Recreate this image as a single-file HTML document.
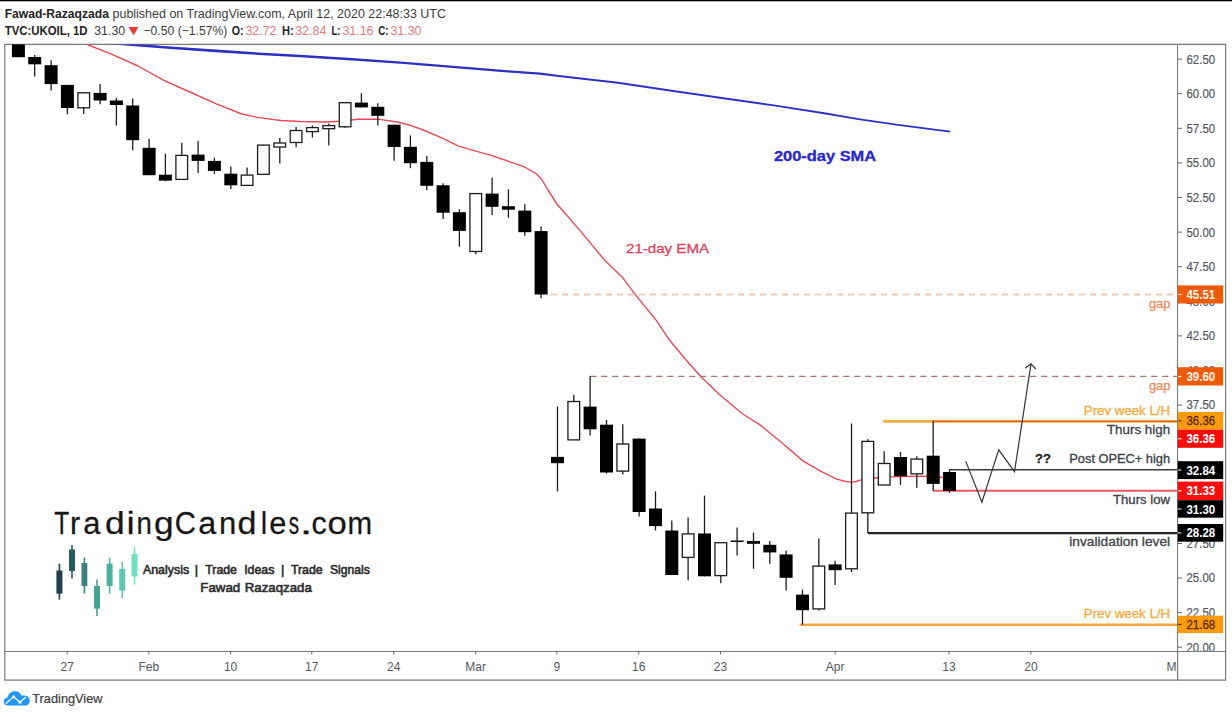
<!DOCTYPE html>
<html><head><meta charset="utf-8"><title>UKOIL chart</title>
<style>
html,body{margin:0;padding:0;background:#fff;}
body{width:1232px;height:717px;overflow:hidden;font-family:"Liberation Sans",sans-serif;}
svg{display:block;font-family:"Liberation Sans",sans-serif;}
.ax{font-size:12px;fill:#54585e;}
.pl{font-size:11.5px;font-weight:bold;}
.hd{font-size:12.5px;fill:#3a3a3a;}
.hb{font-size:12.5px;font-weight:bold;fill:#222;}
.hr{font-size:12.5px;fill:#e8787a;}
.an{font-size:12px;}
</style></head><body>
<svg width="1232" height="717" viewBox="0 0 1232 717">
<rect x="0" y="0" width="1232" height="717" fill="#fff"/>
<rect x="0" y="0" width="1232" height="1.3" fill="#000"/>
<!-- header -->
<text x="4.7" y="18.3" class="hb" textLength="104.2" lengthAdjust="spacingAndGlyphs">Fawad-Razaqzada</text>
<text x="112.5" y="18.3" class="hd" textLength="333.5" lengthAdjust="spacingAndGlyphs">published on TradingView.com, April 12, 2020 22:48:33 UTC</text>
<text x="4.7" y="35.2" class="hb" textLength="82.9" lengthAdjust="spacingAndGlyphs">TVC:UKOIL, 1D</text>
<text x="94.2" y="35.2" class="hd" textLength="31" lengthAdjust="spacingAndGlyphs">31.30</text>
<path d="M128.6 26.9 L138.4 26.9 L133.5 35.2 Z" fill="#e53935"/>
<text x="143.5" y="35.2" class="hd" textLength="83.8" lengthAdjust="spacingAndGlyphs">−0.50 (−1.57%)</text>
<text x="231.7" y="35.2" class="hb" textLength="11.8" lengthAdjust="spacingAndGlyphs">O:</text>
<text x="245.4" y="35.2" class="hr" textLength="31.1" lengthAdjust="spacingAndGlyphs">32.72</text>
<text x="282.1" y="35.2" class="hb" textLength="11.7" lengthAdjust="spacingAndGlyphs">H:</text>
<text x="295.3" y="35.2" class="hr" textLength="31.1" lengthAdjust="spacingAndGlyphs">32.84</text>
<text x="331.5" y="35.2" class="hb" textLength="9" lengthAdjust="spacingAndGlyphs">L:</text>
<text x="342.4" y="35.2" class="hr" textLength="31.1" lengthAdjust="spacingAndGlyphs">31.16</text>
<text x="378.2" y="35.2" class="hb" textLength="10.3" lengthAdjust="spacingAndGlyphs">C:</text>
<text x="390.4" y="35.2" class="hr" textLength="31.1" lengthAdjust="spacingAndGlyphs">31.30</text>

<!-- chart frame -->
<g fill="none" stroke="#7a7a7a" stroke-width="1.2">
<path d="M4.8 680.2 L4.8 44.4 L1225.6 44.4 L1225.6 680.2 Z"/>
<line x1="4.8" y1="651.5" x2="1225.6" y2="651.5"/>
<line x1="1177.6" y1="44.4" x2="1177.6" y2="680.2"/>
</g>

<!-- moving averages -->
<clipPath id="plot"><rect x="5" y="44.4" width="1172" height="607"/></clipPath>
<g clip-path="url(#plot)">
<polygon points="100.0,40.85 122.3,42.66 163.9,45.99 215.8,49.62 267.8,53.05 300.0,54.77 351.9,58.00 403.9,61.63 455.8,66.06 507.8,70.19 540.0,72.51 559.0,74.92 617.9,81.75 669.9,89.59 721.8,97.02 773.8,104.45 825.7,112.58 860.0,118.40 897.9,124.02 950.0,130.85 950.0,132.55 897.9,125.78 860.0,120.20 825.7,114.42 773.8,106.35 721.8,98.98 669.9,91.61 617.9,83.85 559.0,77.08 540.0,74.69 507.8,72.41 455.8,68.34 403.9,63.97 351.9,60.40 300.0,57.23 267.8,55.55 215.8,52.18 163.9,48.61 122.3,45.34 100.0,43.55" fill="#2b30c0"/>
<polyline points="84,42.5 87.3,44.5 112,54.3 138,66 163.9,80.3 189.9,92 215.8,103.6 241.8,114 257.4,117.4 280.8,120.5 300,121.5 326,122 339,121.2 358,119.2 378,119.1 397.4,122 410.4,125.3 423.4,130 442.9,138.4 458.4,146.2 490.9,155.3 523.4,166.4 536,173.5 541.5,179.2 548,190 556.9,204 579,229.4 604.7,260.3 622.1,276.9 635.1,294.4 655.8,319.7 668.8,339.2 685.6,359.5 701.2,377 719.4,394.5 742.7,414 760,424.9 779.5,440.8 802.9,460.9 821,471.3 836.6,479.1 845,481.3 850.9,482.1 856,481.5 861.9,479.7 876.9,477.8 891.2,476.9 906.8,476.4 925,476.3 941,477.2 949,477.8" fill="none" stroke="#e8495a" stroke-width="1.4" stroke-linejoin="round"/>
</g>

<!-- horizontal levels -->
<line x1="550.8" y1="294.5" x2="1177" y2="294.5" stroke="#e6cdbb" stroke-width="2.2" stroke-dasharray="6.5 4.5"/>
<line x1="590.2" y1="376.4" x2="1177" y2="376.4" stroke="#a8746a" stroke-width="1.2" stroke-dasharray="6.2 4.8"/>
<line x1="883.2" y1="421.3" x2="1177" y2="421.3" stroke="#f2ad3a" stroke-width="2.8"/>
<line x1="933.3" y1="421.2" x2="1177" y2="421.2" stroke="#e54a30" stroke-width="1.1"/>
<line x1="949" y1="469.7" x2="1177" y2="469.7" stroke="#3a3a3a" stroke-width="1.5"/>
<line x1="933.3" y1="490.7" x2="1177" y2="490.7" stroke="#ea5865" stroke-width="2"/>
<line x1="868" y1="533.1" x2="1177" y2="533.1" stroke="#222" stroke-width="2.1"/>
<line x1="799.5" y1="624.8" x2="1177" y2="624.8" stroke="#f4a63a" stroke-width="2.4"/>

<!-- candles -->
<line x1="18.4" y1="44.5" x2="18.4" y2="57.2" stroke="#1c1c1c" stroke-width="1.3"/>
<rect x="11.9" y="44.5" width="13.0" height="12.7" fill="#000"/>
<line x1="34.7" y1="55" x2="34.7" y2="76.5" stroke="#1c1c1c" stroke-width="1.3"/>
<rect x="28.2" y="57" width="13.0" height="7.3" fill="#000"/>
<line x1="51.1" y1="60.2" x2="51.1" y2="90.4" stroke="#1c1c1c" stroke-width="1.3"/>
<rect x="44.6" y="65.2" width="13.0" height="18.9" fill="#000"/>
<line x1="67.4" y1="84.9" x2="67.4" y2="114.3" stroke="#1c1c1c" stroke-width="1.3"/>
<rect x="60.9" y="84.9" width="13.0" height="23.1" fill="#000"/>
<line x1="83.7" y1="92.4" x2="83.7" y2="114" stroke="#1c1c1c" stroke-width="1.3"/>
<rect x="77.89" y="92.8" width="11.70" height="15.0" fill="#fff" stroke="#1c1c1c" stroke-width="1.3"/>
<line x1="100.1" y1="84.1" x2="100.1" y2="104.2" stroke="#1c1c1c" stroke-width="1.3"/>
<rect x="93.6" y="92.9" width="13.0" height="7.6" fill="#000"/>
<line x1="116.4" y1="98" x2="116.4" y2="125.6" stroke="#1c1c1c" stroke-width="1.3"/>
<rect x="109.9" y="100.5" width="13.0" height="4.5" fill="#000"/>
<line x1="132.7" y1="98.4" x2="132.7" y2="150.3" stroke="#1c1c1c" stroke-width="1.3"/>
<rect x="126.2" y="105.5" width="13.0" height="34.7" fill="#000"/>
<line x1="149.1" y1="138.7" x2="149.1" y2="175.2" stroke="#1c1c1c" stroke-width="1.3"/>
<rect x="142.6" y="147.8" width="13.0" height="27.4" fill="#000"/>
<line x1="165.4" y1="153.8" x2="165.4" y2="181.2" stroke="#1c1c1c" stroke-width="1.3"/>
<rect x="158.9" y="174.7" width="13.0" height="5.9" fill="#000"/>
<line x1="181.8" y1="142.7" x2="181.8" y2="179.6" stroke="#1c1c1c" stroke-width="1.3"/>
<rect x="175.90" y="155.4" width="11.70" height="24.0" fill="#fff" stroke="#1c1c1c" stroke-width="1.3"/>
<line x1="198.1" y1="140.7" x2="198.1" y2="172.9" stroke="#1c1c1c" stroke-width="1.3"/>
<rect x="191.6" y="154.6" width="13.0" height="6.3" fill="#000"/>
<line x1="214.4" y1="157.8" x2="214.4" y2="174" stroke="#1c1c1c" stroke-width="1.3"/>
<rect x="207.9" y="160.9" width="13.0" height="10.0" fill="#000"/>
<line x1="230.8" y1="166.6" x2="230.8" y2="189" stroke="#1c1c1c" stroke-width="1.3"/>
<rect x="224.3" y="173.7" width="13.0" height="11.6" fill="#000"/>
<line x1="247.1" y1="167.6" x2="247.1" y2="185.6" stroke="#1c1c1c" stroke-width="1.3"/>
<rect x="241.24" y="175.1" width="11.70" height="10.3" fill="#fff" stroke="#1c1c1c" stroke-width="1.3"/>
<line x1="263.4" y1="144.7" x2="263.4" y2="174.5" stroke="#1c1c1c" stroke-width="1.3"/>
<rect x="257.57" y="145.1" width="11.70" height="29.2" fill="#fff" stroke="#1c1c1c" stroke-width="1.3"/>
<line x1="279.8" y1="137.7" x2="279.8" y2="163.4" stroke="#1c1c1c" stroke-width="1.3"/>
<rect x="273.91" y="143.0" width="11.70" height="4.0" fill="#fff" stroke="#1c1c1c" stroke-width="1.3"/>
<line x1="296.1" y1="126.9" x2="296.1" y2="147.3" stroke="#1c1c1c" stroke-width="1.3"/>
<rect x="290.24" y="130.5" width="11.70" height="12.0" fill="#fff" stroke="#1c1c1c" stroke-width="1.3"/>
<line x1="312.4" y1="125.4" x2="312.4" y2="137.5" stroke="#1c1c1c" stroke-width="1.3"/>
<rect x="306.58" y="127.6" width="11.70" height="4.0" fill="#fff" stroke="#1c1c1c" stroke-width="1.3"/>
<line x1="328.8" y1="123.4" x2="328.8" y2="145.6" stroke="#1c1c1c" stroke-width="1.3"/>
<rect x="322.91" y="125.6" width="11.70" height="3.1" fill="#fff" stroke="#1c1c1c" stroke-width="1.3"/>
<line x1="345.1" y1="102.3" x2="345.1" y2="127.8" stroke="#1c1c1c" stroke-width="1.3"/>
<rect x="339.25" y="102.7" width="11.70" height="24.1" fill="#fff" stroke="#1c1c1c" stroke-width="1.3"/>
<line x1="361.4" y1="93.2" x2="361.4" y2="107.4" stroke="#1c1c1c" stroke-width="1.3"/>
<rect x="354.9" y="102.6" width="13.0" height="4.8" fill="#000"/>
<line x1="377.8" y1="103.3" x2="377.8" y2="125.4" stroke="#1c1c1c" stroke-width="1.3"/>
<rect x="371.3" y="106.8" width="13.0" height="9.0" fill="#000"/>
<line x1="394.1" y1="124.7" x2="394.1" y2="160.7" stroke="#1c1c1c" stroke-width="1.3"/>
<rect x="387.6" y="124.7" width="13.0" height="22.3" fill="#000"/>
<line x1="410.4" y1="135.5" x2="410.4" y2="168.2" stroke="#1c1c1c" stroke-width="1.3"/>
<rect x="403.9" y="146.8" width="13.0" height="16.4" fill="#000"/>
<line x1="426.8" y1="156.1" x2="426.8" y2="190.3" stroke="#1c1c1c" stroke-width="1.3"/>
<rect x="420.3" y="161.9" width="13.0" height="23.9" fill="#000"/>
<line x1="443.1" y1="183.3" x2="443.1" y2="219" stroke="#1c1c1c" stroke-width="1.3"/>
<rect x="436.6" y="185.3" width="13.0" height="27.4" fill="#000"/>
<line x1="459.4" y1="209.3" x2="459.4" y2="246.7" stroke="#1c1c1c" stroke-width="1.3"/>
<rect x="452.9" y="212.2" width="13.0" height="18.7" fill="#000"/>
<line x1="475.8" y1="193.2" x2="475.8" y2="254.2" stroke="#1c1c1c" stroke-width="1.3"/>
<rect x="469.93" y="193.6" width="11.70" height="57.9" fill="#fff" stroke="#1c1c1c" stroke-width="1.3"/>
<line x1="492.1" y1="177.8" x2="492.1" y2="215" stroke="#1c1c1c" stroke-width="1.3"/>
<rect x="485.6" y="193.6" width="13.0" height="13.2" fill="#000"/>
<line x1="508.4" y1="189.3" x2="508.4" y2="217.8" stroke="#1c1c1c" stroke-width="1.3"/>
<rect x="501.9" y="206.2" width="13.0" height="3.5" fill="#000"/>
<line x1="524.8" y1="204.3" x2="524.8" y2="235.8" stroke="#1c1c1c" stroke-width="1.3"/>
<rect x="518.3" y="210.6" width="13.0" height="21.6" fill="#000"/>
<line x1="541.1" y1="226.6" x2="541.1" y2="298.3" stroke="#1c1c1c" stroke-width="1.3"/>
<rect x="534.6" y="231.1" width="13.0" height="63.4" fill="#000"/>
<line x1="557.5" y1="406.6" x2="557.5" y2="491.4" stroke="#1c1c1c" stroke-width="1.3"/>
<rect x="551.0" y="456.9" width="13.0" height="6.3" fill="#000"/>
<line x1="573.8" y1="394.8" x2="573.8" y2="440.1" stroke="#1c1c1c" stroke-width="1.3"/>
<rect x="567.94" y="401.5" width="11.70" height="38.4" fill="#fff" stroke="#1c1c1c" stroke-width="1.3"/>
<line x1="590.1" y1="375.9" x2="590.1" y2="435.6" stroke="#1c1c1c" stroke-width="1.3"/>
<rect x="583.6" y="406.6" width="13.0" height="22.7" fill="#000"/>
<line x1="606.5" y1="420" x2="606.5" y2="473.5" stroke="#1c1c1c" stroke-width="1.3"/>
<rect x="600.0" y="424.7" width="13.0" height="47.8" fill="#000"/>
<line x1="622.8" y1="424.2" x2="622.8" y2="474.6" stroke="#1c1c1c" stroke-width="1.3"/>
<rect x="616.94" y="444.0" width="11.70" height="27.1" fill="#fff" stroke="#1c1c1c" stroke-width="1.3"/>
<line x1="639.1" y1="438.6" x2="639.1" y2="516.6" stroke="#1c1c1c" stroke-width="1.3"/>
<rect x="632.6" y="438.6" width="13.0" height="73.4" fill="#000"/>
<line x1="655.5" y1="491.4" x2="655.5" y2="530.5" stroke="#1c1c1c" stroke-width="1.3"/>
<rect x="649.0" y="508.5" width="13.0" height="17.6" fill="#000"/>
<line x1="671.8" y1="520.5" x2="671.8" y2="575" stroke="#1c1c1c" stroke-width="1.3"/>
<rect x="665.3" y="530.5" width="13.0" height="44.5" fill="#000"/>
<line x1="688.1" y1="517.4" x2="688.1" y2="580.3" stroke="#1c1c1c" stroke-width="1.3"/>
<rect x="682.28" y="533.9" width="11.70" height="23.5" fill="#fff" stroke="#1c1c1c" stroke-width="1.3"/>
<line x1="704.5" y1="495.6" x2="704.5" y2="576.3" stroke="#1c1c1c" stroke-width="1.3"/>
<rect x="698.0" y="533.5" width="13.0" height="42.8" fill="#000"/>
<line x1="720.8" y1="542.3" x2="720.8" y2="583.3" stroke="#1c1c1c" stroke-width="1.3"/>
<rect x="714.96" y="542.7" width="11.70" height="32.9" fill="#fff" stroke="#1c1c1c" stroke-width="1.3"/>
<line x1="737.1" y1="527.4" x2="737.1" y2="555.6" stroke="#1c1c1c" stroke-width="1.3"/>
<rect x="730.6" y="540.5" width="13.0" height="1.5" fill="#000"/>
<line x1="753.5" y1="532.5" x2="753.5" y2="568.7" stroke="#1c1c1c" stroke-width="1.3"/>
<rect x="747.0" y="541" width="13.0" height="2.8" fill="#000"/>
<line x1="769.8" y1="541" x2="769.8" y2="563.7" stroke="#1c1c1c" stroke-width="1.3"/>
<rect x="763.3" y="544.8" width="13.0" height="7.6" fill="#000"/>
<line x1="786.1" y1="550.6" x2="786.1" y2="590.4" stroke="#1c1c1c" stroke-width="1.3"/>
<rect x="779.6" y="554.4" width="13.0" height="23.4" fill="#000"/>
<line x1="802.5" y1="589.6" x2="802.5" y2="624.8" stroke="#1c1c1c" stroke-width="1.3"/>
<rect x="796.0" y="594.6" width="13.0" height="15.6" fill="#000"/>
<line x1="818.8" y1="538.5" x2="818.8" y2="610.6" stroke="#1c1c1c" stroke-width="1.3"/>
<rect x="812.97" y="566.1" width="11.70" height="42.8" fill="#fff" stroke="#1c1c1c" stroke-width="1.3"/>
<line x1="835.1" y1="560.7" x2="835.1" y2="585.1" stroke="#1c1c1c" stroke-width="1.3"/>
<rect x="828.6" y="564.4" width="13.0" height="5.8" fill="#000"/>
<line x1="851.5" y1="423.5" x2="851.5" y2="572" stroke="#1c1c1c" stroke-width="1.3"/>
<rect x="845.63" y="513.1" width="11.70" height="55.7" fill="#fff" stroke="#1c1c1c" stroke-width="1.3"/>
<line x1="867.8" y1="439.3" x2="867.8" y2="533.1" stroke="#1c1c1c" stroke-width="1.3"/>
<rect x="861.97" y="441.4" width="11.70" height="71.4" fill="#fff" stroke="#1c1c1c" stroke-width="1.3"/>
<line x1="884.2" y1="451.2" x2="884.2" y2="485.2" stroke="#1c1c1c" stroke-width="1.3"/>
<rect x="878.30" y="463.5" width="11.70" height="21.5" fill="#fff" stroke="#1c1c1c" stroke-width="1.3"/>
<line x1="900.5" y1="451.9" x2="900.5" y2="484.9" stroke="#1c1c1c" stroke-width="1.3"/>
<rect x="894.0" y="457" width="13.0" height="19.3" fill="#000"/>
<line x1="916.8" y1="456.2" x2="916.8" y2="487.8" stroke="#1c1c1c" stroke-width="1.3"/>
<rect x="910.98" y="459.1" width="11.70" height="14.7" fill="#fff" stroke="#1c1c1c" stroke-width="1.3"/>
<line x1="933.2" y1="421.2" x2="933.2" y2="490.9" stroke="#1c1c1c" stroke-width="1.3"/>
<rect x="926.7" y="455.7" width="13.0" height="28.2" fill="#000"/>
<line x1="949.5" y1="470.3" x2="949.5" y2="492.9" stroke="#1c1c1c" stroke-width="1.3"/>
<rect x="943.0" y="472" width="13.0" height="18.9" fill="#000"/>

<!-- projected path arrow -->
<polyline points="965.8,461.4 981.9,502.3 998.7,449.9 1014.5,471.6 1031,363.8" fill="none" stroke="#333" stroke-width="1.2" stroke-linejoin="miter"/>
<polyline points="1025.2,368.3 1031,363.8 1035.8,369" fill="none" stroke="#333" stroke-width="1.2"/>

<!-- annotations -->
<text x="626" y="253.1" class="an" stroke="#e0405a" stroke-width="0.3" style="font-size:13.5px" fill="#e0405a" textLength="83.1" lengthAdjust="spacingAndGlyphs">21-day EMA</text>
<text x="773.9" y="160.7" class="an" stroke="#2828cc" stroke-width="0.3" style="font-size:14px" fill="#2828cc" font-weight="bold" textLength="102.3" lengthAdjust="spacingAndGlyphs">200-day SMA</text>
<text x="1148.9" y="307.7" class="an" stroke="#ea8a60" stroke-width="0.3" fill="#ea8a60" textLength="21.4" lengthAdjust="spacingAndGlyphs">gap</text>
<text x="1148.9" y="389.9" class="an" stroke="#ea8a60" stroke-width="0.3" fill="#ea8a60" textLength="21.4" lengthAdjust="spacingAndGlyphs">gap</text>
<text x="1083.8" y="414.6" class="an" stroke="#f2ab3c" stroke-width="0.3" fill="#f2ab3c" textLength="86.3" lengthAdjust="spacingAndGlyphs">Prev week L/H</text>
<text x="1106.9" y="434.4" class="an" stroke="#3d4248" stroke-width="0.3" fill="#3d4248" textLength="63.2" lengthAdjust="spacingAndGlyphs">Thurs high</text>
<text x="1035" y="462.7" class="an" stroke="#222" stroke-width="0.3" style="font-size:13px" fill="#222" font-weight="bold" textLength="15.8" lengthAdjust="spacingAndGlyphs">??</text>
<text x="1069.3" y="463.2" class="an" stroke="#3d4248" stroke-width="0.3" fill="#3d4248" textLength="100.8" lengthAdjust="spacingAndGlyphs">Post OPEC+ high</text>
<text x="1113" y="504.4" class="an" stroke="#3d4248" stroke-width="0.3" fill="#3d4248" textLength="57.1" lengthAdjust="spacingAndGlyphs">Thurs low</text>
<text x="1069.3" y="546.3" class="an" stroke="#3d4248" stroke-width="0.3" fill="#3d4248" textLength="100.8" lengthAdjust="spacingAndGlyphs">invalidation level</text>
<text x="1083.8" y="618" class="an" stroke="#f2ab3c" stroke-width="0.3" fill="#f2ab3c" textLength="86.3" lengthAdjust="spacingAndGlyphs">Prev week L/H</text>

<!-- price axis -->
<rect x="1178.3" y="45" width="46.6" height="606" fill="#fff"/>
<g clip-path="url(#axclip)">
<line x1="1178" y1="59.1" x2="1182" y2="59.1" stroke="#666" stroke-width="1"/>
<text x="1186.5" y="63.5" textLength="28.6" lengthAdjust="spacingAndGlyphs" class="ax" stroke="#54585e" stroke-width="0.2">62.50</text>
<line x1="1178" y1="93.7" x2="1182" y2="93.7" stroke="#666" stroke-width="1"/>
<text x="1186.5" y="98.1" textLength="28.6" lengthAdjust="spacingAndGlyphs" class="ax" stroke="#54585e" stroke-width="0.2">60.00</text>
<line x1="1178" y1="128.3" x2="1182" y2="128.3" stroke="#666" stroke-width="1"/>
<text x="1186.5" y="132.7" textLength="28.6" lengthAdjust="spacingAndGlyphs" class="ax" stroke="#54585e" stroke-width="0.2">57.50</text>
<line x1="1178" y1="162.9" x2="1182" y2="162.9" stroke="#666" stroke-width="1"/>
<text x="1186.5" y="167.3" textLength="28.6" lengthAdjust="spacingAndGlyphs" class="ax" stroke="#54585e" stroke-width="0.2">55.00</text>
<line x1="1178" y1="197.5" x2="1182" y2="197.5" stroke="#666" stroke-width="1"/>
<text x="1186.5" y="201.9" textLength="28.6" lengthAdjust="spacingAndGlyphs" class="ax" stroke="#54585e" stroke-width="0.2">52.50</text>
<line x1="1178" y1="232.1" x2="1182" y2="232.1" stroke="#666" stroke-width="1"/>
<text x="1186.5" y="236.5" textLength="28.6" lengthAdjust="spacingAndGlyphs" class="ax" stroke="#54585e" stroke-width="0.2">50.00</text>
<line x1="1178" y1="266.7" x2="1182" y2="266.7" stroke="#666" stroke-width="1"/>
<text x="1186.5" y="271.1" textLength="28.6" lengthAdjust="spacingAndGlyphs" class="ax" stroke="#54585e" stroke-width="0.2">47.50</text>
<line x1="1178" y1="301.2" x2="1182" y2="301.2" stroke="#666" stroke-width="1"/>
<text x="1186.5" y="305.6" textLength="28.6" lengthAdjust="spacingAndGlyphs" class="ax" stroke="#54585e" stroke-width="0.2">45.00</text>
<line x1="1178" y1="335.9" x2="1182" y2="335.9" stroke="#666" stroke-width="1"/>
<text x="1186.5" y="340.2" textLength="28.6" lengthAdjust="spacingAndGlyphs" class="ax" stroke="#54585e" stroke-width="0.2">42.50</text>
<line x1="1178" y1="370.5" x2="1182" y2="370.5" stroke="#666" stroke-width="1"/>
<text x="1186.5" y="374.9" textLength="28.6" lengthAdjust="spacingAndGlyphs" class="ax" stroke="#54585e" stroke-width="0.2">40.00</text>
<line x1="1178" y1="405.1" x2="1182" y2="405.1" stroke="#666" stroke-width="1"/>
<text x="1186.5" y="409.4" textLength="28.6" lengthAdjust="spacingAndGlyphs" class="ax" stroke="#54585e" stroke-width="0.2">37.50</text>
<line x1="1178" y1="439.7" x2="1182" y2="439.7" stroke="#666" stroke-width="1"/>
<text x="1186.5" y="444.1" textLength="28.6" lengthAdjust="spacingAndGlyphs" class="ax" stroke="#54585e" stroke-width="0.2">35.00</text>
<line x1="1178" y1="474.2" x2="1182" y2="474.2" stroke="#666" stroke-width="1"/>
<text x="1186.5" y="478.6" textLength="28.6" lengthAdjust="spacingAndGlyphs" class="ax" stroke="#54585e" stroke-width="0.2">32.50</text>
<line x1="1178" y1="508.9" x2="1182" y2="508.9" stroke="#666" stroke-width="1"/>
<text x="1186.5" y="513.2" textLength="28.6" lengthAdjust="spacingAndGlyphs" class="ax" stroke="#54585e" stroke-width="0.2">30.00</text>
<line x1="1178" y1="543.5" x2="1182" y2="543.5" stroke="#666" stroke-width="1"/>
<text x="1186.5" y="547.9" textLength="28.6" lengthAdjust="spacingAndGlyphs" class="ax" stroke="#54585e" stroke-width="0.2">27.50</text>
<line x1="1178" y1="578.0" x2="1182" y2="578.0" stroke="#666" stroke-width="1"/>
<text x="1186.5" y="582.4" textLength="28.6" lengthAdjust="spacingAndGlyphs" class="ax" stroke="#54585e" stroke-width="0.2">25.00</text>
<line x1="1178" y1="612.7" x2="1182" y2="612.7" stroke="#666" stroke-width="1"/>
<text x="1186.5" y="617.1" textLength="28.6" lengthAdjust="spacingAndGlyphs" class="ax" stroke="#54585e" stroke-width="0.2">22.50</text>
<line x1="1178" y1="647.2" x2="1182" y2="647.2" stroke="#666" stroke-width="1"/>
<text x="1186.5" y="651.6" textLength="28.6" lengthAdjust="spacingAndGlyphs" class="ax" stroke="#54585e" stroke-width="0.2">20.00</text>
</g>
<clipPath id="axclip"><rect x="1178" y="45" width="47" height="606"/></clipPath>
<rect x="1177.8" y="285.4" width="45.4" height="18.1" fill="#ee5a0a"/><line x1="1178" y1="294.4" x2="1181.5" y2="294.4" stroke="#fff4e6" stroke-width="1"/><text x="1186.4" y="298.9" textLength="28.8" lengthAdjust="spacingAndGlyphs" font-size="12" font-weight="bold" fill="#fff4e6" stroke="#fff4e6" stroke-width="0">45.51</text>
<rect x="1177.8" y="367.2" width="45.4" height="18.3" fill="#ee5a0a"/><line x1="1178" y1="376.4" x2="1181.5" y2="376.4" stroke="#fff4e6" stroke-width="1"/><text x="1186.4" y="380.9" textLength="28.8" lengthAdjust="spacingAndGlyphs" font-size="12" font-weight="bold" fill="#fff4e6" stroke="#fff4e6" stroke-width="0">39.60</text>
<rect x="1177.8" y="412" width="45.4" height="17.7" fill="#fb9a10"/><line x1="1178" y1="420.9" x2="1181.5" y2="420.9" stroke="#5a2806" stroke-width="1"/><text x="1186.4" y="425.4" textLength="28.8" lengthAdjust="spacingAndGlyphs" font-size="12" font-weight="normal" fill="#5a2806" stroke="#5a2806" stroke-width="0.3">36.36</text>
<rect x="1177.8" y="429.7" width="45.4" height="18.1" fill="#f90d0d"/><line x1="1178" y1="438.8" x2="1181.5" y2="438.8" stroke="#fff" stroke-width="1"/><text x="1186.4" y="443.2" textLength="28.8" lengthAdjust="spacingAndGlyphs" font-size="12" font-weight="bold" fill="#fff" stroke="#fff" stroke-width="0">36.36</text>
<rect x="1177.8" y="461.2" width="45.4" height="17.9" fill="#000"/><line x1="1178" y1="470.1" x2="1181.5" y2="470.1" stroke="#fff" stroke-width="1"/><text x="1186.4" y="474.6" textLength="28.8" lengthAdjust="spacingAndGlyphs" font-size="12" font-weight="bold" fill="#fff" stroke="#fff" stroke-width="0">32.84</text>
<rect x="1177.8" y="481.6" width="45.4" height="18.6" fill="#f90d0d"/><line x1="1178" y1="490.9" x2="1181.5" y2="490.9" stroke="#fff" stroke-width="1"/><text x="1186.4" y="495.4" textLength="28.8" lengthAdjust="spacingAndGlyphs" font-size="12" font-weight="bold" fill="#fff" stroke="#fff" stroke-width="0">31.33</text>
<rect x="1177.8" y="500.2" width="45.4" height="17.5" fill="#000"/><line x1="1178" y1="509.0" x2="1181.5" y2="509.0" stroke="#fff" stroke-width="1"/><text x="1186.4" y="513.5" textLength="28.8" lengthAdjust="spacingAndGlyphs" font-size="12" font-weight="bold" fill="#fff" stroke="#fff" stroke-width="0">31.30</text>
<rect x="1177.8" y="524" width="45.4" height="17.7" fill="#000"/><line x1="1178" y1="532.9" x2="1181.5" y2="532.9" stroke="#fff" stroke-width="1"/><text x="1186.4" y="537.4" textLength="28.8" lengthAdjust="spacingAndGlyphs" font-size="12" font-weight="bold" fill="#fff" stroke="#fff" stroke-width="0">28.28</text>
<rect x="1177.8" y="615.7" width="45.4" height="17.4" fill="#fb9a10"/><line x1="1178" y1="624.4" x2="1181.5" y2="624.4" stroke="#5a2806" stroke-width="1"/><text x="1186.4" y="628.9" textLength="28.8" lengthAdjust="spacingAndGlyphs" font-size="12" font-weight="normal" fill="#5a2806" stroke="#5a2806" stroke-width="0.3">21.68</text>

<!-- time axis -->
<line x1="67.2" y1="651.5" x2="67.2" y2="654.5" stroke="#666" stroke-width="1"/>
<text x="67.2" y="670.6" text-anchor="middle" class="ax">27</text>
<line x1="148.8" y1="651.5" x2="148.8" y2="654.5" stroke="#666" stroke-width="1"/>
<text x="148.8" y="670.6" text-anchor="middle" class="ax">Feb</text>
<line x1="230.6" y1="651.5" x2="230.6" y2="654.5" stroke="#666" stroke-width="1"/>
<text x="230.6" y="670.6" text-anchor="middle" class="ax">10</text>
<line x1="311.8" y1="651.5" x2="311.8" y2="654.5" stroke="#666" stroke-width="1"/>
<text x="311.8" y="670.6" text-anchor="middle" class="ax">17</text>
<line x1="393.7" y1="651.5" x2="393.7" y2="654.5" stroke="#666" stroke-width="1"/>
<text x="393.7" y="670.6" text-anchor="middle" class="ax">24</text>
<line x1="475.7" y1="651.5" x2="475.7" y2="654.5" stroke="#666" stroke-width="1"/>
<text x="475.7" y="670.6" text-anchor="middle" class="ax">Mar</text>
<line x1="556.8" y1="651.5" x2="556.8" y2="654.5" stroke="#666" stroke-width="1"/>
<text x="556.8" y="670.6" text-anchor="middle" class="ax">9</text>
<line x1="638.7" y1="651.5" x2="638.7" y2="654.5" stroke="#666" stroke-width="1"/>
<text x="638.7" y="670.6" text-anchor="middle" class="ax">16</text>
<line x1="720.5" y1="651.5" x2="720.5" y2="654.5" stroke="#666" stroke-width="1"/>
<text x="720.5" y="670.6" text-anchor="middle" class="ax">23</text>
<line x1="835.2" y1="651.5" x2="835.2" y2="654.5" stroke="#666" stroke-width="1"/>
<text x="835.2" y="670.6" text-anchor="middle" class="ax">Apr</text>
<line x1="949" y1="651.5" x2="949" y2="654.5" stroke="#666" stroke-width="1"/>
<text x="949" y="670.6" text-anchor="middle" class="ax">13</text>
<line x1="1030.9" y1="651.5" x2="1030.9" y2="654.5" stroke="#666" stroke-width="1"/>
<text x="1030.9" y="670.6" text-anchor="middle" class="ax">20</text>
<text x="1166.6" y="670.6" class="ax" clip-path="url(#mclip)">May</text>
<clipPath id="mclip"><rect x="1160" y="655" width="17" height="22"/></clipPath>

<!-- watermark -->
<g font-size="30.8" fill="#161616" stroke="#161616" stroke-width="0.25">
<text transform="translate(54.23,533.8) scale(0.795,1)">T</text>
<text transform="translate(70.07,533.8) scale(0.987,1)">r</text>
<text transform="translate(83.16,533.8) scale(1.006,1)">a</text>
<text transform="translate(105.07,533.8) scale(1.148,1)">d</text>
<text transform="translate(126.44,533.8) scale(1.199,1)">i</text>
<text transform="translate(136.46,533.8) scale(0.897,1)">n</text>
<text transform="translate(154.07,533.8) scale(1.148,1)">g</text>
<text transform="translate(174.83,533.8) scale(0.954,1)">C</text>
<text transform="translate(198.30,533.8) scale(1.050,1)">a</text>
<text transform="translate(218.94,533.8) scale(1.005,1)">n</text>
<text transform="translate(237.53,533.8) scale(1.105,1)">d</text>
<text transform="translate(260.87,533.8) scale(0.938,1)">l</text>
<text transform="translate(269.36,533.8) scale(1.002,1)">e</text>
<text transform="translate(288.68,533.8) scale(0.674,1)">s</text>
<text transform="translate(299.70,533.8) scale(1.478,1)">.</text>
<text transform="translate(311.48,533.8) scale(0.989,1)">c</text>
<text transform="translate(327.40,533.8) scale(1.126,1)">o</text>
<text transform="translate(347.43,533.8) scale(0.960,1)">m</text>
</g>
<g>
<line x1="59.4" y1="563.6" x2="59.4" y2="599.6" stroke="#1f3f4a" stroke-width="1.6"/><rect x="56.4" y="570.5" width="6" height="23.1" fill="#1f3f4a"/>
<line x1="72" y1="545" x2="72" y2="578.6" stroke="#2a5a66" stroke-width="1.6"/><rect x="69" y="549.5" width="6" height="21.5" fill="#2a5a66"/>
<line x1="84.4" y1="557.6" x2="84.4" y2="593.6" stroke="#3a8080" stroke-width="1.6"/><rect x="81.5" y="563" width="5.8" height="23" fill="#3a8080"/>
<line x1="97" y1="579.5" x2="97" y2="616" stroke="#45a090" stroke-width="1.6"/><rect x="94" y="586" width="6" height="22.6" fill="#45a090"/>
<line x1="109.6" y1="557.6" x2="109.6" y2="593.6" stroke="#50b0a0" stroke-width="1.6"/><rect x="106.6" y="563.6" width="6" height="22.4" fill="#50b0a0"/>
<line x1="122.2" y1="562" x2="122.2" y2="598" stroke="#60c8b0" stroke-width="1.6"/><rect x="119.2" y="569" width="6" height="21.6" fill="#60c8b0"/>
<line x1="134.5" y1="547" x2="134.5" y2="584.6" stroke="#70e0c0" stroke-width="1.6"/><rect x="131.5" y="554" width="6" height="22.5" fill="#70e0c0"/>
</g>
<g font-size="12.8" fill="#2c2c2c" stroke="#2c2c2c" stroke-width="0.6">
<text x="142.9" y="574" textLength="46.2" lengthAdjust="spacingAndGlyphs">Analysis</text>
<text x="196.4" y="574" text-anchor="middle">|</text>
<text x="205.2" y="574" textLength="31.8" lengthAdjust="spacingAndGlyphs">Trade</text>
<text x="244.2" y="574" textLength="30.2" lengthAdjust="spacingAndGlyphs">Ideas</text>
<text x="282.6" y="574" text-anchor="middle">|</text>
<text x="290.9" y="574" textLength="31.8" lengthAdjust="spacingAndGlyphs">Trade</text>
<text x="329.9" y="574" textLength="39.9" lengthAdjust="spacingAndGlyphs">Signals</text>
<text x="200.3" y="592" textLength="40" lengthAdjust="spacingAndGlyphs">Fawad</text>
<text x="244.8" y="592" textLength="67" lengthAdjust="spacingAndGlyphs">Razaqzada</text>
</g>

<!-- TradingView logo -->
<g>
<path d="M8.2 705.6 C5.4 705.6 3.8 703.7 3.8 701.4 C3.8 699.2 5.4 697.6 7.6 697.4 C8.2 693.8 11.3 691.3 14.9 691.3 C18 691.3 20.6 693.1 21.8 695.8 C22.4 695.6 23.1 695.5 23.8 695.5 C27.1 695.5 29.8 697.7 29.8 700.7 C29.8 703.5 27.6 705.6 24.9 705.6 Z" fill="#2196f3"/>
<polyline points="6.1,703.3 13.6,696.8 19.9,702.2 25.4,697.5" fill="none" stroke="#fff" stroke-width="1.2" stroke-linejoin="round" stroke-linecap="round"/>
<circle cx="13.6" cy="696.8" r="1.5" fill="#fff"/><circle cx="19.9" cy="702.2" r="1.5" fill="#fff"/>
</g>
<text x="32.3" y="702.8" font-size="12.3" fill="#3c3c3c" stroke="#3c3c3c" stroke-width="0.2" textLength="70.2" lengthAdjust="spacingAndGlyphs">TradingView</text>
</svg>
</body></html>
